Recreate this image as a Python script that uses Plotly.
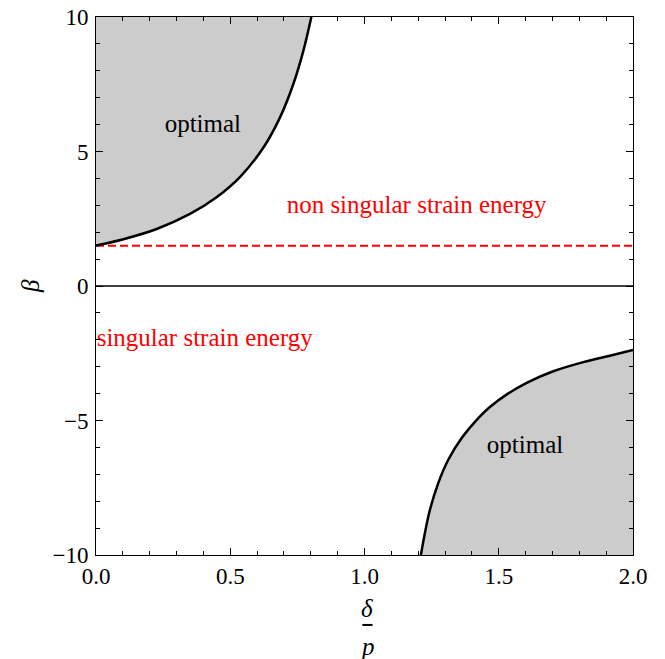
import plotly.graph_objects as go

# Data
x_range = [0.0, 2.0]
y_range = [-10.0, 10.0]

upper_delta = [0.0, 0.102, 0.226, 0.350, 0.449, 0.536, 0.623, 0.685, 0.735, 0.772, 0.802]
upper_beta = [1.5, 1.74, 2.12, 2.68, 3.30, 4.05, 5.14, 6.26, 7.51, 8.73, 10.0]

lower_delta = [1.210, 1.225, 1.244, 1.275, 1.312, 1.362, 1.424, 1.467, 1.530, 1.604, 1.703, 1.815, 1.914, 2.0]
lower_beta = [-10.0, -9.18, -8.31, -7.32, -6.46, -5.65, -4.91, -4.50, -4.03, -3.60, -3.17, -2.83, -2.59, -2.38]

threshold_beta = 1.5

labels = ["optimal", "optimal", "non singular strain energy", "singular strain energy"]
label_x = [0.398, 1.598, 1.194, 0.405]
label_y = [5.97, -5.99, 2.94, -2.0]
label_colors = ["black", "black", "red", "red"]

xticks = [0.0, 0.5, 1.0, 1.5, 2.0]
xticklabels = ["0.0", "0.5", "1.0", "1.5", "2.0"]
yticks = [-10, -5, 0, 5, 10]
yticklabels = ["\u221210", "\u22125", "0", "5", "10"]

FONT = "Liberation Serif, Times New Roman, Times, serif"
FILL = "#CCCCCC"

fig = go.Figure()

# Upper shaded region
fig.add_trace(go.Scatter(
    x=upper_delta + [x_range[0]], y=upper_beta + [y_range[1]],
    fill="toself", fillcolor=FILL, mode="none", hoverinfo="skip", showlegend=False))
# Lower shaded region
fig.add_trace(go.Scatter(
    x=lower_delta + [x_range[1]], y=lower_beta + [y_range[0]],
    fill="toself", fillcolor=FILL, mode="none", hoverinfo="skip", showlegend=False))

# zero line
fig.add_trace(go.Scatter(x=x_range, y=[0, 0], mode="lines",
                         line=dict(color="black", width=1.3), showlegend=False, hoverinfo="skip"))
# threshold dashed line
fig.add_trace(go.Scatter(x=x_range, y=[threshold_beta, threshold_beta], mode="lines",
                         line=dict(color="red", width=2, dash="8px,4px"), showlegend=False, hoverinfo="skip"))

# boundary curves
fig.add_trace(go.Scatter(x=upper_delta, y=upper_beta, mode="lines", line=dict(color="black", width=2.5, shape="spline"),
                         showlegend=False, hoverinfo="skip"))
fig.add_trace(go.Scatter(x=lower_delta, y=lower_beta, mode="lines", line=dict(color="black", width=2.5, shape="spline"),
                         showlegend=False, hoverinfo="skip"))

# region labels (as clipped text)
fig.add_trace(go.Scatter(x=label_x, y=label_y, mode="text", text=labels, textposition="middle center",
                         textfont=dict(family=FONT, size=25, color=label_colors), cliponaxis=True,
                         showlegend=False, hoverinfo="skip"))

axis_common = dict(showgrid=False, zeroline=False, showline=True, linecolor="black", linewidth=1,
                   mirror="allticks", ticks="inside", tickcolor="black", ticklen=7, tickwidth=1,
                   automargin=False, ticklabeloverflow="allow",
                   tickfont=dict(family=FONT, size=23, color="black"))

fig.update_xaxes(range=x_range, tickvals=xticks, ticktext=xticklabels,
                 minor=dict(dtick=0.1, ticks="inside", ticklen=4, tickcolor="black", showgrid=False),
                 **axis_common)
fig.update_yaxes(range=y_range, tickvals=yticks, ticktext=yticklabels, ticklabelstandoff=2,
                 minor=dict(dtick=1, ticks="inside", ticklen=4, tickcolor="black", showgrid=False),
                 **axis_common)

# axis labels
fig.add_annotation(xref="paper", yref="paper", x=-0.123, y=0.5, text="<i>\u03b2</i>", showarrow=False,
                   font=dict(family=FONT, size=25, color="black"), textangle=-90,
                   xanchor="center", yanchor="middle")
fig.add_annotation(xref="paper", yref="paper", x=0.505, y=-0.100, text="<i>\u03b4</i>", showarrow=False,
                   font=dict(family=FONT, size=25, color="black"), yanchor="middle")
fig.add_annotation(xref="paper", yref="paper", x=0.505, y=-0.170, text="<i>p</i>", showarrow=False,
                   font=dict(family=FONT, size=25, color="black"), yanchor="middle")
fig.add_shape(type="line", xref="paper", yref="paper", x0=0.496, x1=0.515, y0=-0.130, y1=-0.130,
              line=dict(color="black", width=2))

fig.update_layout(width=657, height=651, margin=dict(l=88, r=32, t=9, b=104, autoexpand=False),
                  plot_bgcolor="white", paper_bgcolor="white", showlegend=False)

fig.write_html("out.html")
